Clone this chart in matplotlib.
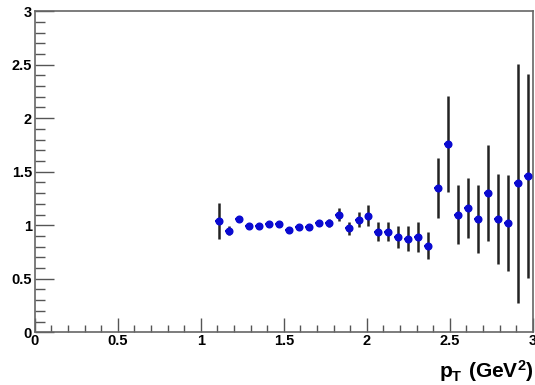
import matplotlib
matplotlib.use("Agg")
import matplotlib.pyplot as plt
import numpy as np
from matplotlib.ticker import MultipleLocator

# bin centres in pT
pt = [1.11, 1.17, 1.23, 1.29, 1.35, 1.41, 1.47, 1.53, 1.59, 1.65, 1.71,
      1.77, 1.83, 1.89, 1.95, 2.01, 2.07, 2.13, 2.19, 2.25, 2.31, 2.37,
      2.43, 2.49, 2.55, 2.61, 2.67, 2.73, 2.79, 2.85, 2.91, 2.97]
ratio = [1.04, 0.95, 1.06, 0.99, 0.99, 1.01, 1.01, 0.96, 0.98, 0.98, 1.02,
         1.02, 1.10, 0.97, 1.05, 1.09, 0.94, 0.94, 0.89, 0.875, 0.89, 0.81,
         1.35, 1.76, 1.10, 1.16, 1.06, 1.30, 1.06, 1.02, 1.39, 1.46]
ratio_err = [0.17, 0.04, 0.03, 0.02, 0.02, 0.02, 0.02, 0.02, 0.02, 0.02, 0.03,
             0.04, 0.06, 0.06, 0.07, 0.10, 0.09, 0.09, 0.10, 0.12, 0.14, 0.13,
             0.28, 0.45, 0.28, 0.28, 0.32, 0.45, 0.42, 0.45, 1.12, 0.95]

plt.rcParams['font.family'] = ['Liberation Sans', 'DejaVu Sans']
plt.rcParams['mathtext.fontset'] = 'custom'
plt.rcParams['mathtext.bf'] = 'Liberation Sans:bold'
plt.rcParams['mathtext.rm'] = 'Liberation Sans:bold'

fig = plt.figure(figsize=(5.35, 3.85), dpi=100)
ax = fig.add_axes([0.065, 0.137, 0.931, 0.834])

# vertical errors in black, small horizontal bar in blue
ax.errorbar(pt, ratio, yerr=ratio_err, fmt='none', ecolor='#222222',
            elinewidth=1.8, capsize=0, zorder=2)
ax.errorbar(pt, ratio, xerr=0.024, fmt='o', color='#0a0ad0', ms=4.8,
            elinewidth=1.6, capsize=0, zorder=3)

ax.set_xlim(0, 3)
ax.set_ylim(0, 3)
ax.xaxis.set_minor_locator(MultipleLocator(0.1))
ax.yaxis.set_minor_locator(MultipleLocator(0.1))
ax.set_xticks([0, 0.5, 1, 1.5, 2, 2.5, 3])
ax.set_xticklabels(['0', '0.5', '1', '1.5', '2', '2.5', '3'])
ax.set_yticks([0, 0.5, 1, 1.5, 2, 2.5, 3])
ax.set_yticklabels(['0', '0.5', '1', '1.5', '2', '2.5', '3'])

ax.tick_params(axis='both', which='both', direction='in', colors='#555555',
               labelcolor='black', labelsize=10.5, width=1)
ax.tick_params(axis='y', which='major', length=14, pad=2)
ax.tick_params(axis='y', which='minor', length=7)
ax.tick_params(axis='x', which='major', length=10, pad=1)
ax.tick_params(axis='x', which='minor', length=5)
for lab in ax.get_xticklabels() + ax.get_yticklabels():
    lab.set_fontweight('bold')
for s in ax.spines.values():
    s.set_color('#666666')
    s.set_linewidth(1.2)

fig.text(0.998, 0.035, r'$\mathbf{p_{T}\ (GeV^{2})}$', ha='right', va='center',
         fontsize=15)

plt.savefig('out.png', dpi=100)
